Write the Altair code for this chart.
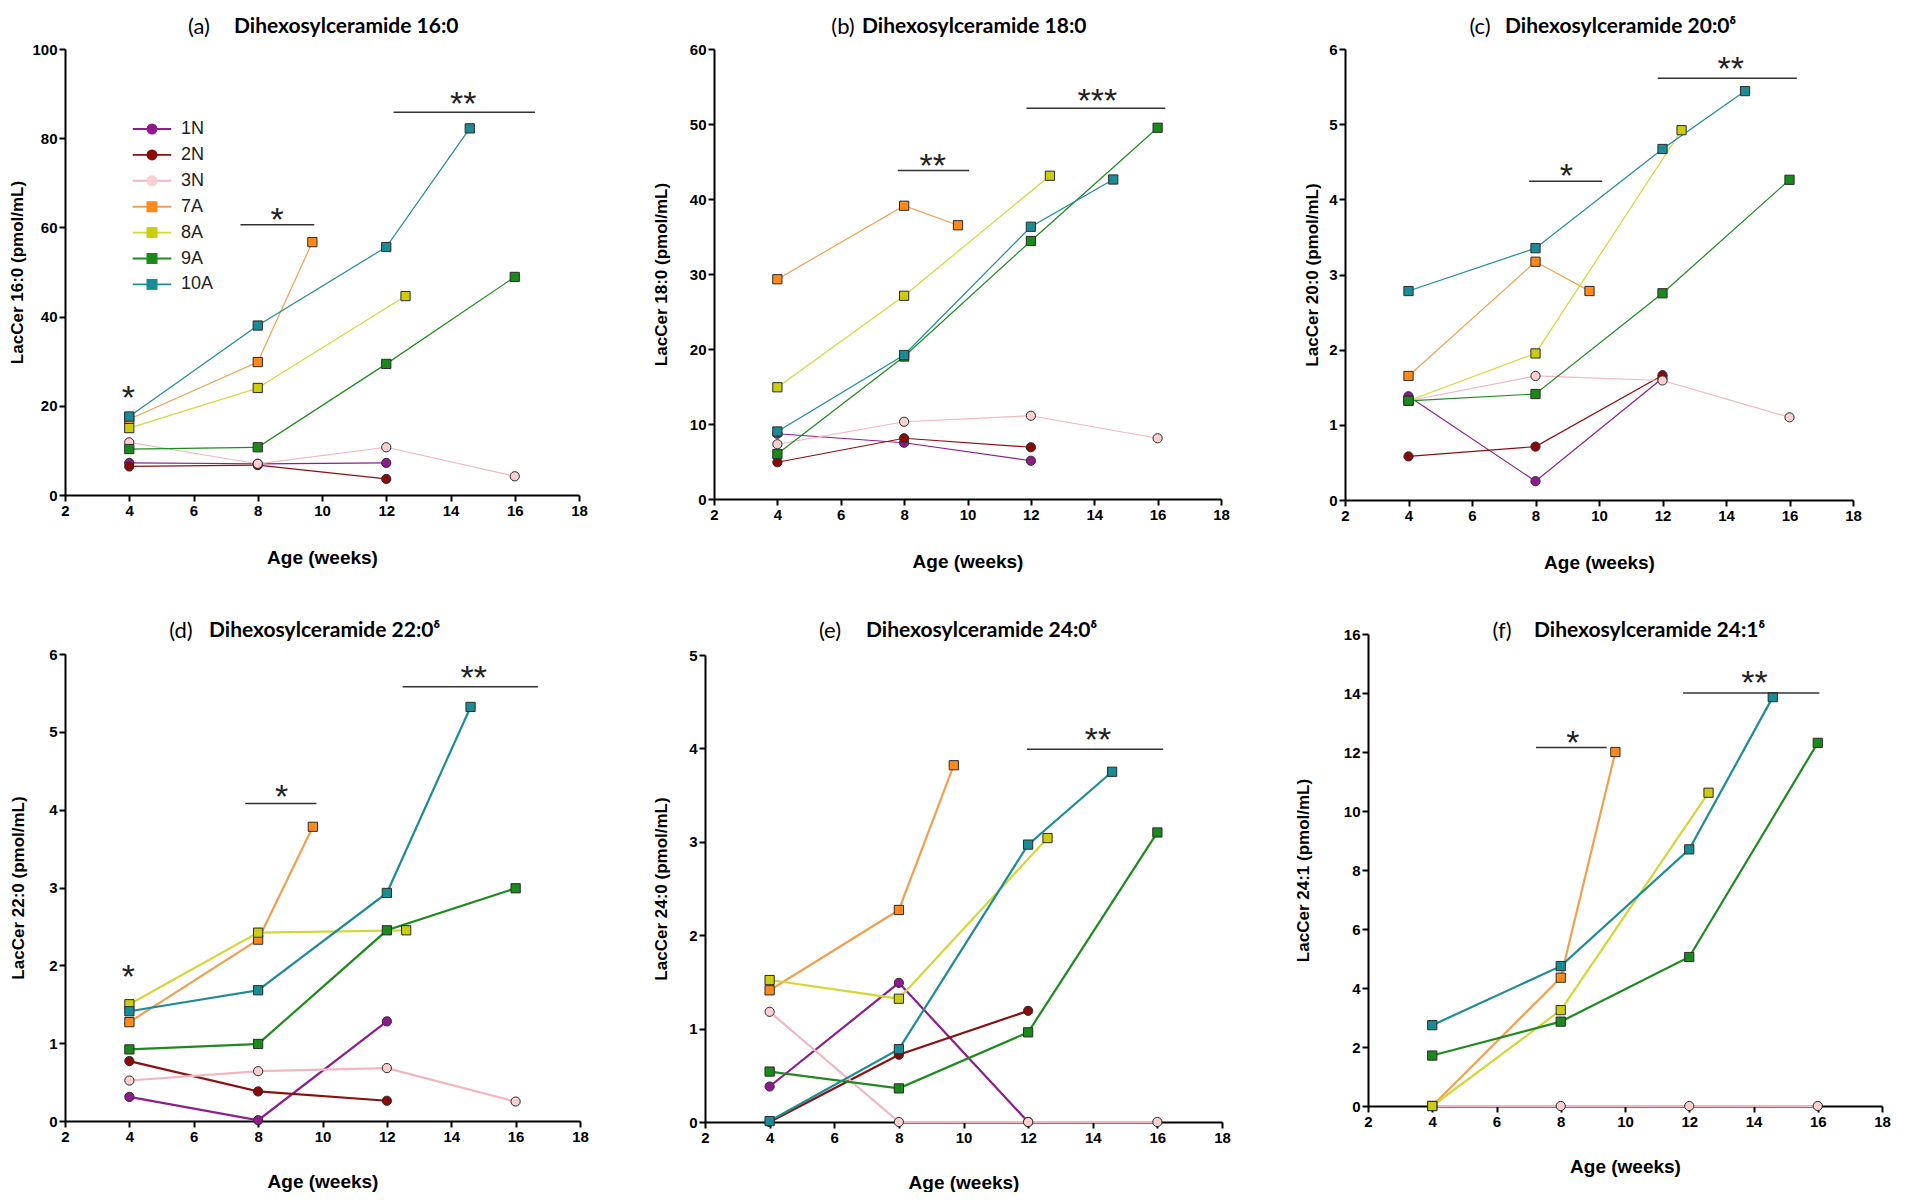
import altair as alt
import pandas as pd

# ---------------- data ----------------
GROUPS = ["1N", "2N", "3N", "7A", "8A", "9A", "10A"]
LINE_COLORS = ["#8B1F8B", "#8B1010", "#F2B6BE", "#F0A050", "#D2D83A", "#1F8A1F", "#1F8C94"]
MARKER_COLORS = ["#8E1A8E", "#8A0A0A", "#F9CFCF", "#FF8A1A", "#CCCC10", "#1A8A1A", "#1A8C96"]
MARKER_SHAPES = ["circle", "circle", "circle", "square", "square", "square", "square"]

AGE_N = [4, 8, 12, 16]
AGE_7A = [4, 8, 9.7]
AGE_8A = [4, 8, 12.6]
AGE_9A = [4, 8, 12, 16]
AGE_10A = [4, 8, 12, 14.6]

LAC_16_0 = {
    "1N": [7.2, 7.0, 7.2],
    "2N": [6.4, 6.7, 3.6],
    "3N": [11.8, 7.0, 10.7, 4.2],
    "7A": [17.0, 29.8, 56.7],
    "8A": [15.0, 24.0, 44.6],
    "9A": [10.3, 10.7, 29.4, 48.9],
    "10A": [17.6, 38.0, 55.6, 82.2],
}
LAC_18_0 = {
    "1N": [8.7, 7.5, 5.1],
    "2N": [4.9, 8.1, 6.9],
    "3N": [7.3, 10.3, 11.1, 8.1],
    "7A": [29.3, 39.1, 36.5],
    "8A": [14.9, 27.1, 43.1],
    "9A": [6.0, 19.0, 34.4, 49.5],
    "10A": [9.0, 19.2, 36.3, 42.6],
}
LAC_20_0 = {
    "1N": [1.38, 0.25, 1.62],
    "2N": [0.58, 0.71, 1.66],
    "3N": [1.32, 1.65, 1.59, 1.10],
    "7A": [1.65, 3.17, 2.78],
    "8A": [1.32, 1.95, 4.92],
    "9A": [1.32, 1.41, 2.75, 4.26],
    "10A": [2.78, 3.35, 4.67, 5.44],
}
LAC_22_0 = {
    "1N": [0.31, 0.01, 1.28],
    "2N": [0.77, 0.38, 0.26],
    "3N": [0.52, 0.64, 0.68, 0.25],
    "7A": [1.27, 2.33, 3.78],
    "8A": [1.50, 2.42, 2.45],
    "9A": [0.92, 0.99, 2.45, 2.99],
    "10A": [1.41, 1.68, 2.93, 5.32],
}
LAC_24_0 = {
    "1N": [0.38, 1.49, 0.0],
    "2N": [0.0, 0.72, 1.19],
    "3N": [1.18, 0.0, 0.0, 0.0],
    "7A": [1.41, 2.27, 3.82],
    "8A": [1.52, 1.32, 3.04],
    "9A": [0.54, 0.36, 0.96, 3.10],
    "10A": [0.01, 0.78, 2.97, 3.75],
}
LAC_24_1 = {
    "3N": [0.0, 0.0, 0.0, 0.0],
    "7A": [0.0, 4.35, 12.0],
    "8A": [0.0, 3.25, 10.62],
    "9A": [1.71, 2.86, 5.05, 12.31],
    "10A": [2.74, 4.74, 8.70, 13.86],
}

# significance marks: (label, age, value) and bars: (age start, age end, value)
STARS_16_0 = [("*", 3.97, 23.5), ("*", 8.6, 63.5), ("**", 14.4, 89.5)]
BARS_16_0 = [(7.46, 9.76, 60.6), (12.23, 16.63, 85.8)]
STARS_18_0 = [("**", 8.9, 45.5), ("***", 14.1, 54.2)]
BARS_18_0 = [(7.8, 10.05, 43.8), (11.86, 16.24, 52.1)]
STARS_20_0 = [("*", 8.97, 4.42), ("**", 14.15, 5.84)]
BARS_20_0 = [(7.8, 10.1, 4.24), (11.85, 16.23, 5.61)]
STARS_22_0 = [("*", 3.97, 1.95), ("*", 8.73, 4.27), ("**", 14.7, 5.8)]
BARS_22_0 = [(7.6, 9.81, 4.08), (12.49, 16.69, 5.58)]
STARS_24_0 = [("**", 14.16, 4.18)]
BARS_24_0 = [(11.96, 16.18, 3.99)]
STARS_24_1 = [("*", 8.38, 12.58), ("**", 14.03, 14.6)]
BARS_24_1 = [(7.23, 9.43, 12.15), (11.81, 16.05, 14.0)]

X_TICKS = [2, 4, 6, 8, 10, 12, 14, 16, 18]

NARROW = "Liberation Sans Narrow, Arial Narrow, Liberation Sans, sans-serif"
SANS = "Liberation Sans, Arial, sans-serif"
TITLE_FONT = "Lato, Open Sans, sans-serif"
LEGEND_LINE = "M-3.5,-0.17L3.5,-0.17L3.5,0.17L-3.5,0.17Z"


def ages_for(g, n):
    if g == "7A":
        a = AGE_7A
    elif g == "8A":
        a = AGE_8A
    elif g == "9A":
        a = AGE_9A
    elif g == "10A":
        a = AGE_10A
    else:
        a = AGE_N
    return a[:n]


def panel(letter, title, ylab, ymax, ystep, vals, stars, bars, w, h, lw,
          title_y, letter_x, title_x, ytp, xtp, legend=False):
    rows = []
    for g in GROUPS:
        if g in vals:
            for a, v in zip(ages_for(g, len(vals[g])), vals[g]):
                rows.append({"group": g, "grp": g, "lg": g, "age": a, "value": v})
    df = pd.DataFrame(rows)

    xs = alt.Scale(domain=[2, 18], nice=False, zero=False)
    ys = alt.Scale(domain=[0, ymax], nice=False, zero=True)
    yticks = []
    t = 0
    while t <= ymax + 1e-9:
        yticks.append(t)
        t += ystep
    common = dict(labelFont=NARROW, labelFontWeight="bold", labelFontSize=15,
                  labelColor="black", domainColor="black", domainWidth=2,
                  tickColor="black", tickWidth=2, tickSize=6, labelPadding=2,
                  grid=False, titleColor="black", titleFontWeight="bold")
    xax = alt.Axis(values=X_TICKS, title="Age (weeks)", titleFont=NARROW,
                   titleFontSize=19, titlePadding=xtp, labelFlush=False, **common)
    yax = alt.Axis(values=yticks, title=ylab, titleFont=SANS, titleFontSize=17,
                   titlePadding=ytp, labelFlush=False, **common)

    def X():
        return alt.X("age:Q", scale=xs, axis=xax)

    def Y():
        return alt.Y("value:Q", scale=ys, axis=yax)

    layers = []
    lines = alt.Chart(df).mark_line(strokeWidth=lw).encode(
        x=X(), y=Y(),
        color=alt.Color("group:N", scale=alt.Scale(domain=GROUPS, range=LINE_COLORS),
                        legend=None),
    )
    layers.append(lines)

    if legend:
        mark_leg = alt.Legend(orient="none", legendX=78, legendY=71, title=None,
                              symbolSize=121, symbolStrokeColor="#2b2b2b",
                              symbolStrokeWidth=1, symbolOpacity=1,
                              labelFont=NARROW, labelFontSize=18,
                              labelColor="transparent", labelOffset=20,
                              rowPadding=7.9, padding=0, zindex=2)
        line_leg = alt.Legend(orient="none", legendX=78, legendY=71, title=None,
                              symbolType=LEGEND_LINE, symbolSize=121,
                              symbolStrokeWidth=0, symbolOpacity=1,
                              labelFont=NARROW, labelFontSize=18,
                              labelColor="#222", labelOffset=20,
                              rowPadding=7.9, padding=0, zindex=1)
        # empty-text layer, used only to carry the line-colour legend
        legend_layer = alt.Chart(df).mark_text(text="").encode(
            x=X(), y=Y(),
            fill=alt.Fill("lg:N", scale=alt.Scale(domain=GROUPS, range=LINE_COLORS),
                          legend=line_leg),
        )
        layers.append(legend_layer)
    else:
        mark_leg = None

    points = alt.Chart(df).mark_point(filled=True, size=85, opacity=1,
                                      stroke="#2b2b2b", strokeWidth=1).encode(
        x=X(), y=Y(),
        fill=alt.Fill("grp:N", scale=alt.Scale(domain=GROUPS, range=MARKER_COLORS),
                      legend=mark_leg),
        shape=alt.Shape("grp:N", scale=alt.Scale(domain=GROUPS, range=MARKER_SHAPES),
                        legend=mark_leg),
    )
    layers.append(points)

    star_df = pd.DataFrame(stars, columns=["label", "age", "value"])
    layers.append(alt.Chart(star_df).mark_text(
        font=SANS, fontSize=34, baseline="alphabetic", dy=19, align="center",
        color="#222").encode(x=X(), y=Y(), text="label:N"))
    bar_df = pd.DataFrame(bars, columns=["age", "age2", "value"])
    layers.append(alt.Chart(bar_df).mark_rule(color="#333", strokeWidth=1.5).encode(
        x=X(), x2="age2:Q", y=Y()))
    layers.append(alt.Chart(pd.DataFrame({"t": [f"({letter})"]})).mark_text(
        font=TITLE_FONT, fontSize=22, align="center", baseline="middle",
        color="black").encode(text="t:N", x=alt.value(letter_x), y=alt.value(title_y)))
    layers.append(alt.Chart(pd.DataFrame({"t": [title]})).mark_text(
        font=TITLE_FONT, fontSize=21, fontWeight="bold", align="left",
        baseline="middle", color="black").encode(
        text="t:N", x=alt.value(title_x), y=alt.value(title_y)))

    return (alt.layer(*layers)
            .resolve_scale(fill="independent", shape="independent", color="independent")
            .resolve_legend(fill="independent", shape="independent", color="independent")
            .properties(width=w, height=h))


pa = panel("a", "Dihexosylceramide 16:0", "LacCer 16:0 (pmol/mL)", 100, 20,
           LAC_16_0, STARS_16_0, BARS_16_0, 514, 446, 1.2, -22, 134, 169, 5, 30,
           legend=True)
pb = panel("b", "Dihexosylceramide 18:0", "LacCer 18:0 (pmol/mL)", 60, 10,
           LAC_18_0, STARS_18_0, BARS_18_0, 507, 450, 1.2, -22, 129, 148, 19, 30)
pc = panel("c", "Dihexosylceramide 20:0\u1D5F", "LacCer 20:0 (pmol/mL)", 6, 1,
           LAC_20_0, STARS_20_0, BARS_20_0, 508, 451, 1.2, -22, 135, 160, 7.4, 30)
pd_ = panel("d", "Dihexosylceramide 22:0\u1D5F", "LacCer 22:0 (pmol/mL)", 6, 1,
            LAC_22_0, STARS_22_0, BARS_22_0, 515, 467, 2.2, -23, 116, 144, 21, 28)
pe = panel("e", "Dihexosylceramide 24:0\u1D5F", "LacCer 24:0 (pmol/mL)", 5, 1,
           LAC_24_0, STARS_24_0, BARS_24_0, 517, 467, 2.2, -24, 125, 161, 18.4, 28)
pf = panel("f", "Dihexosylceramide 24:1\u1D5F", "LacCer 24:1 (pmol/mL)", 16, 2,
           LAC_24_1, STARS_24_1, BARS_24_1, 514, 472, 2.2, -3, 134, 166, 31, 28)

RES = dict(color="independent", fill="independent", shape="independent")

chart = (
    alt.concat(pa, pb, pc, pd_, pe, pf, columns=3, align="none",
               spacing={"row": 48, "column": 63})
    .resolve_scale(**RES)
    .resolve_legend(**RES)
    .properties(padding={"left": 0, "top": 8, "right": 0, "bottom": 0},
                background="white")
    .configure_view(stroke=None)
)

chart.save("out.html", embed_options={"renderer": "svg", "actions": False})
